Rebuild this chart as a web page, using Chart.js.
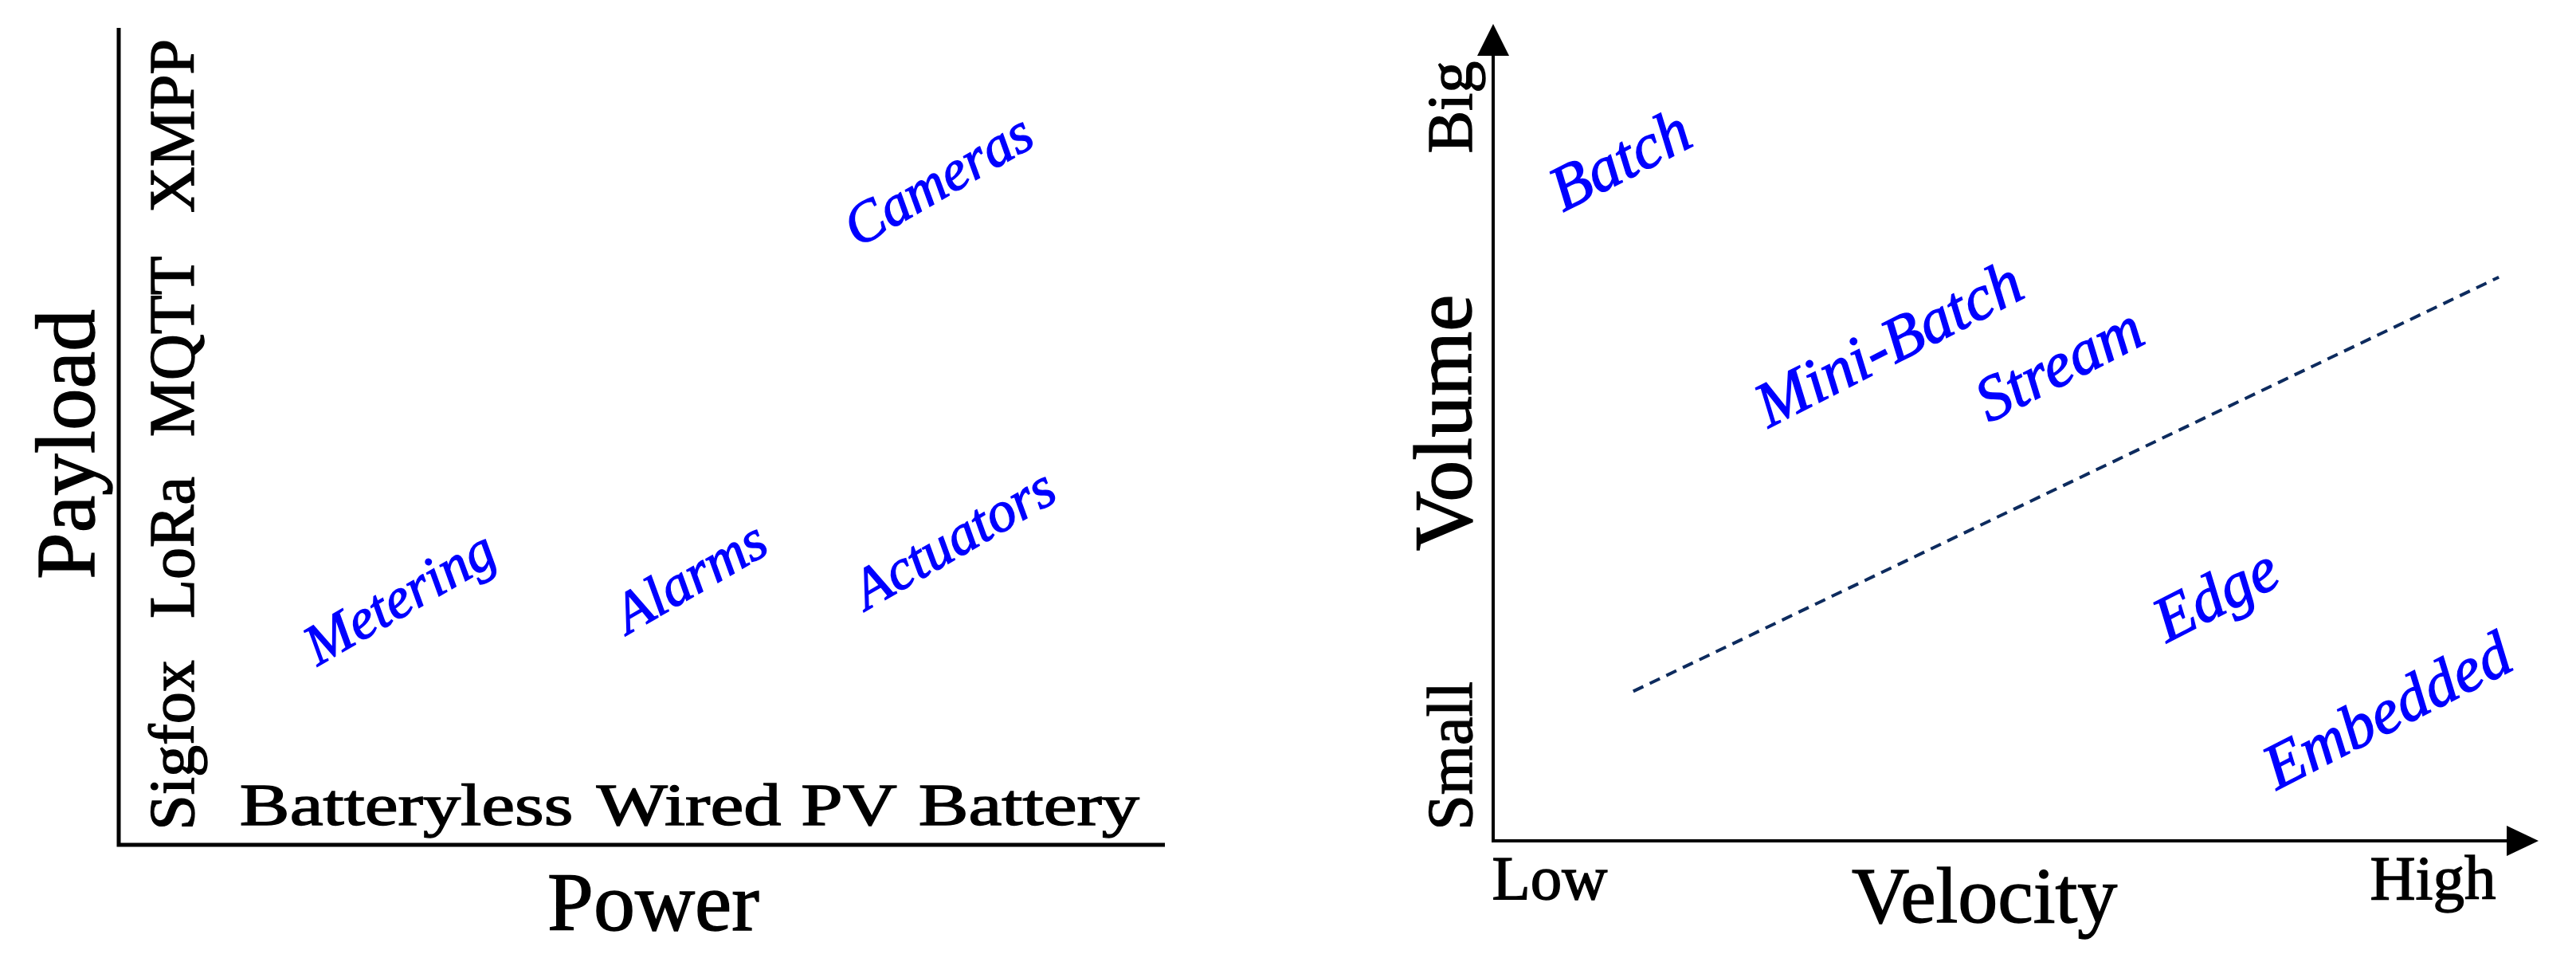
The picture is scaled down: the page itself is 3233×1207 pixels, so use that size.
<!DOCTYPE html>
<html lang="en">
<head>
    <meta charset="UTF-8">
    <title>IoT Power / Payload and Velocity / Volume</title>
    <script src="https://cdn.jsdelivr.net/npm/chart.js"></script>
    <style>
        body { margin: 0; background: #fff; }
        #wrap { position: relative; width: 3233px; height: 1207px; }
        canvas { position: absolute; top: 0; }
    </style>
</head>
<body>
<div id="wrap">
    <canvas id="powerChart" width="1616" height="1207" style="left:0px"></canvas>
    <canvas id="velocityChart" width="1617" height="1207" style="left:1616px"></canvas>
</div>
<script>
    // left panel: power vs payload (axes run 0..10)
    const powerLabels = ['Batteryless', 'Wired', 'PV', 'Battery'];
    const powerPos = [2.75, 5.45, 6.98, 8.70];
    const payloadLabels = ['Sigfox', 'LoRa', 'MQTT', 'XMPP'];
    const payloadPos = [1.22, 3.64, 6.10, 8.80];
    const deviceNames = ['Metering', 'Alarms', 'Actuators', 'Cameras'];
    const devicePower = [2.70, 5.48, 8.00, 7.85];
    const devicePayload = [2.99, 3.24, 3.71, 8.10];

    // right panel: velocity vs volume (axes run 0..10)
    const velocityLabels = ['Low', 'High'];
    const velocityPos = [0.54, 8.99];
    const volumeLabels = ['Small', 'Big'];
    const volumePos = [1.04, 8.98];
    const modeNames = ['Batch', 'Mini-Batch', 'Stream', 'Edge', 'Embedded'];
    const modeVelocity = [1.23, 3.80, 5.43, 6.93, 8.57];
    const modeVolume = [8.29, 6.04, 5.79, 2.97, 1.55];
    const boundaryVelocity = [1.34, 9.62];
    const boundaryVolume = [1.83, 6.90];

    const SERIF = "'Liberation Serif', 'Times New Roman', serif";
    const BLUE = '#0000ff';
    Chart.defaults.font.family = SERIF;

    function toPoints(xs, ys) {
        return xs.map((v, i) => ({x: v, y: ys[i]}));
    }

    // the original lettering is a bit heavier than plain canvas text
    function heavyText(ctx, text, x, y) {
        ctx.fillText(text, x, y);
        ctx.strokeText(text, x, y);
    }

    // rotated italic labels sitting on the points of dataset 0
    function drawNames(chart, names, size, angle) {
        const ctx = chart.ctx;
        const meta = chart.getDatasetMeta(0);
        ctx.save();
        ctx.fillStyle = BLUE;
        ctx.strokeStyle = BLUE;
        ctx.lineWidth = 1.4;
        ctx.font = `italic ${size}px ${SERIF}`;
        ctx.textAlign = 'center';
        ctx.textBaseline = 'middle';
        meta.data.forEach((el, i) => {
            ctx.save();
            ctx.translate(el.x, el.y);
            ctx.rotate(-angle * Math.PI / 180);
            heavyText(ctx, names[i], 0, 0);
            ctx.restore();
        });
        ctx.restore();
    }

    function vertText(ctx, text, x, y) {
        ctx.save();
        ctx.translate(x, y);
        ctx.rotate(-Math.PI / 2);
        heavyText(ctx, text, 0, 0);
        ctx.restore();
    }

    const powerPlugin = {
        id: 'powerDecor',
        afterDatasetsDraw(chart) {
            const {ctx, chartArea: a, scales: {x, y}} = chart;
            const x0 = x.getPixelForValue(0);
            const y0 = y.getPixelForValue(0);
            ctx.save();
            ctx.strokeStyle = '#000';
            ctx.lineWidth = 5;
            ctx.lineJoin = 'miter';
            ctx.beginPath();
            ctx.moveTo(x0, y.getPixelForValue(10));
            ctx.lineTo(x0, y0);
            ctx.lineTo(x.getPixelForValue(10), y0);
            ctx.stroke();

            ctx.fillStyle = '#000';
            ctx.lineWidth = 1.4;
            ctx.textAlign = 'center';
            ctx.textBaseline = 'alphabetic';

            // payload ticks, inside the axis
            ctx.font = `80px ${SERIF}`;
            payloadLabels.forEach((t, i) => vertText(ctx, t, x0 + 94, y.getPixelForValue(payloadPos[i])));

            // power ticks, inside the axis (wide lettering)
            ctx.font = `73px ${SERIF}`;
            powerLabels.forEach((t, i) => {
                ctx.save();
                ctx.translate(x.getPixelForValue(powerPos[i]), y0 - 25);
                ctx.scale(1.29, 1);
                heavyText(ctx, t, 0, 0);
                ctx.restore();
            });

            ctx.font = `105px ${SERIF}`;
            vertText(ctx, 'Payload', x0 - 31, (a.top + a.bottom) / 2 + 10);
            ctx.font = `104px ${SERIF}`;
            heavyText(ctx, 'Power', a.left + 0.511 * (a.right - a.left), y0 + 107);
            ctx.restore();

            drawNames(chart, deviceNames, 72, 30);
        }
    };

    const velocityPlugin = {
        id: 'velocityDecor',
        afterDatasetsDraw(chart) {
            const {ctx, chartArea: a, scales: {x, y}} = chart;
            const x0 = x.getPixelForValue(0);
            const y0 = y.getPixelForValue(0);
            const xEnd = x.getPixelForValue(10);
            const yEnd = y.getPixelForValue(10);
            ctx.save();
            ctx.strokeStyle = '#000';
            ctx.fillStyle = '#000';
            ctx.lineWidth = 4;
            ctx.beginPath();
            ctx.moveTo(x0, yEnd + 40);
            ctx.lineTo(x0, y0);
            ctx.lineTo(xEnd - 40, y0);
            ctx.stroke();
            // arrow heads
            ctx.beginPath();
            ctx.moveTo(x0, yEnd);
            ctx.lineTo(x0 - 20, yEnd + 40);
            ctx.lineTo(x0 + 20, yEnd + 40);
            ctx.closePath();
            ctx.fill();
            ctx.beginPath();
            ctx.moveTo(xEnd, y0);
            ctx.lineTo(xEnd - 40, y0 - 19);
            ctx.lineTo(xEnd - 40, y0 + 19);
            ctx.closePath();
            ctx.fill();

            ctx.lineWidth = 1.4;
            ctx.textAlign = 'center';
            ctx.textBaseline = 'alphabetic';
            ctx.font = `80px ${SERIF}`;
            volumeLabels.forEach((t, i) => vertText(ctx, t, x0 - 27, y.getPixelForValue(volumePos[i])));
            ctx.font = `79px ${SERIF}`;
            velocityLabels.forEach((t, i) => heavyText(ctx, t, x.getPixelForValue(velocityPos[i]), y0 + 73));

            ctx.font = `104px ${SERIF}`;
            vertText(ctx, 'Volume', x0 - 28, (a.top + a.bottom) / 2 - 12);
            ctx.font = `100px ${SERIF}`;
            heavyText(ctx, 'Velocity', a.left + 0.47 * (a.right - a.left), y0 + 102);
            ctx.restore();

            drawNames(chart, modeNames, 80, 27);
        }
    };

    const baseScales = {
        x: {type: 'linear', min: 0, max: 10, display: false},
        y: {type: 'linear', min: 0, max: 10, display: false}
    };

    new Chart(document.getElementById('powerChart'), {
        type: 'scatter',
        data: {
            datasets: [{
                label: 'Devices',
                data: toPoints(devicePower, devicePayload),
                pointRadius: 0
            }]
        },
        options: {
            responsive: false,
            animation: false,
            devicePixelRatio: 1,
            events: [],
            layout: {padding: {left: 149, right: 154, top: 35, bottom: 147}},
            scales: baseScales,
            plugins: {legend: {display: false}, tooltip: {enabled: false}}
        },
        plugins: [powerPlugin]
    });

    new Chart(document.getElementById('velocityChart'), {
        type: 'scatter',
        data: {
            datasets: [{
                label: 'Processing',
                data: toPoints(modeVelocity, modeVolume),
                pointRadius: 0
            }, {
                label: 'Boundary',
                data: toPoints(boundaryVelocity, boundaryVolume),
                showLine: true,
                pointRadius: 0,
                borderColor: '#0d2b5e',
                borderWidth: 4,
                borderDash: [14, 9]
            }]
        },
        options: {
            responsive: false,
            animation: false,
            devicePixelRatio: 1,
            events: [],
            layout: {padding: {left: 258, right: 47, top: 30, bottom: 152}},
            scales: baseScales,
            plugins: {legend: {display: false}, tooltip: {enabled: false}}
        },
        plugins: [velocityPlugin]
    });
</script>
</body>
</html>
